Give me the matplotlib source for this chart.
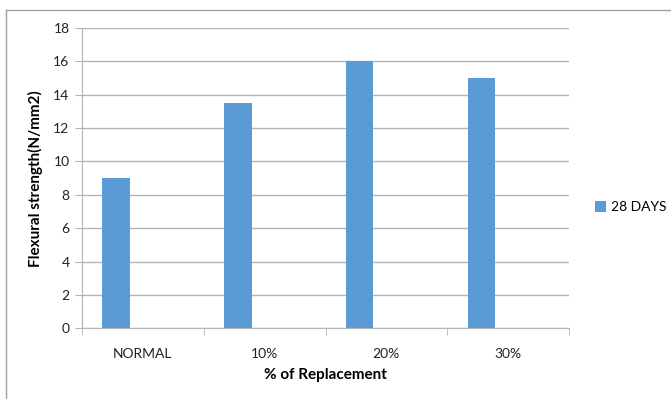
import matplotlib
matplotlib.use("Agg")
import matplotlib.pyplot as plt
from matplotlib.patches import Patch
from matplotlib.lines import Line2D

# Data
categories = ['NORMAL', '10%', '20%', '30%']
days_28 = [9, 13.5, 16, 15]
y_ticks = [0, 2, 4, 6, 8, 10, 12, 14, 16, 18]

plt.rcParams['font.family'] = ['Lato', 'DejaVu Sans']

bar_color = '#5B9BD5'
grid_color = '#b4b4b4'

fig = plt.figure(figsize=(6.71, 3.99), dpi=100)
ax = fig.add_axes([82 / 671, 1 - 328.3 / 399, 487 / 671, 300.3 / 399])

x = list(range(len(categories)))
ax.bar([i - 0.22 for i in x], days_28, width=0.225, color=bar_color, zorder=3)

ax.set_xlim(-0.5, len(categories) - 0.5)
ax.set_ylim(0, 18)
ax.set_yticks(y_ticks)
ax.yaxis.grid(True, color=grid_color, linewidth=1.0, zorder=0)

ax.set_xticks(x)
ax.set_xticklabels(categories)
ax.set_xticks([i - 0.5 for i in range(len(categories) + 1)], minor=True)
ax.tick_params(axis='x', which='major', length=0, pad=14, labelsize=10, colors='#222222')
ax.tick_params(axis='x', which='minor', length=5, color=grid_color)
ax.tick_params(axis='y', length=5, color=grid_color, labelsize=10, colors='#222222', pad=4)

for s in ['top', 'right']:
    ax.spines[s].set_visible(False)
for s in ['left', 'bottom']:
    ax.spines[s].set_color(grid_color)

ax.set_ylabel('Flexural strength(N/mm2)', fontsize=11, fontweight='bold')
ax.set_xlabel('% of Replacement', fontsize=11, fontweight='bold')
ax.yaxis.set_label_coords(-0.080, 0.5)
ax.xaxis.set_label_coords(0.5, -0.132)

fig.legend(handles=[Patch(facecolor=bar_color, label='28 DAYS')],
           loc='center left', bbox_to_anchor=(595 / 671, 1 - 207 / 399),
           frameon=False, fontsize=10, handlelength=0.8, handleheight=0.8,
           handletextpad=0.35, borderpad=0, borderaxespad=0)

# outer chart border
fig.add_artist(Line2D([6 / 671, 1.0], [1 - 10 / 399, 1 - 10 / 399],
                      transform=fig.transFigure, color='#a0a0a0', linewidth=1))
fig.add_artist(Line2D([6 / 671, 6 / 671], [0, 1 - 10 / 399],
                      transform=fig.transFigure, color='#a0a0a0', linewidth=1))

fig.savefig('out.png', dpi=100)
